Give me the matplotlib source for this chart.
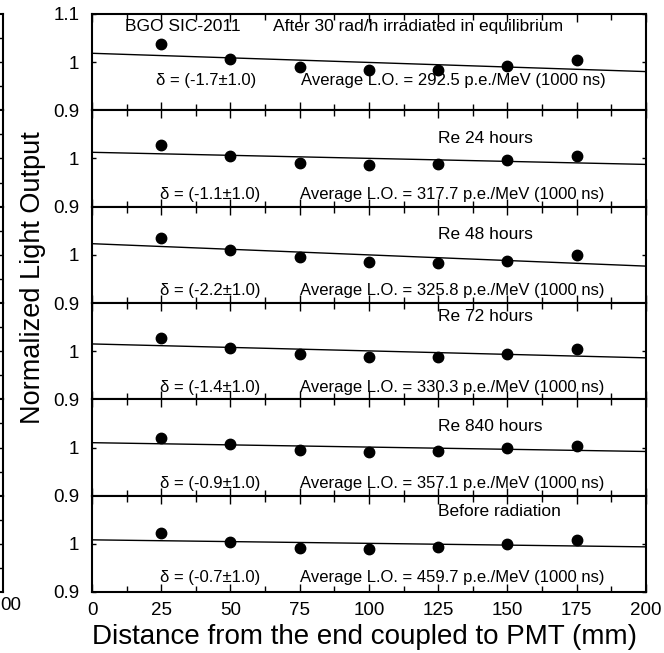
import numpy as np
import matplotlib
matplotlib.use("Agg")
import matplotlib.pyplot as plt
from matplotlib.ticker import MultipleLocator

plt.rcParams['font.family'] = ['Liberation Sans', 'DejaVu Sans']

# distance from PMT end (mm)
distance = [25, 50, 75, 100, 125, 150, 175]

# normalized light output per condition, top panel first
lo_after_30 = [1.037, 1.006, 0.990, 0.983, 0.984, 0.992, 1.004]
lo_re24 = [1.028, 1.006, 0.991, 0.986, 0.989, 0.996, 1.006]
lo_re48 = [1.035, 1.011, 0.996, 0.985, 0.984, 0.988, 1.000]
lo_re72 = [1.028, 1.007, 0.994, 0.988, 0.988, 0.994, 1.005]
lo_re840 = [1.019, 1.007, 0.994, 0.991, 0.993, 0.998, 1.004]
lo_before = [1.022, 1.004, 0.992, 0.989, 0.993, 0.999, 1.008]

conditions = ["After 30 rad/h irradiated in equilibrium", "Re 24 hours", "Re 48 hours",
              "Re 72 hours", "Re 840 hours", "Before radiation"]
deltas = ["-1.7", "-1.1", "-2.2", "-1.4", "-0.9", "-0.7"]
avg_lo = ["292.5", "317.7", "325.8", "330.3", "357.1", "459.7"]

series = [lo_after_30, lo_re24, lo_re48, lo_re72, lo_re840, lo_before]

W, H = 664, 653
fig = plt.figure(figsize=(W / 100, H / 100), dpi=100)

top, bottom = 1 - 14 / H, 1 - 592 / H

# edge of the neighbouring plot, cropped at the left side
gs_n = fig.add_gridspec(6, 1, left=-480 / W, right=3 / W, top=top, bottom=bottom, hspace=0)
for i in range(6):
    axn = fig.add_subplot(gs_n[i])
    axn.set_xlim(0, 200)
    axn.set_ylim(0.9, 1.1)
    for s in axn.spines.values():
        s.set_linewidth(1.5)
    axn.tick_params(axis='y', which='both', left=False, right=True, labelleft=False,
                    direction='in', length=3, width=1)
    axn.set_yticks([0.95, 1.0, 1.05])
    axn.set_xticks([])
fig.text(0 / W, 1 - 606 / H, "00", fontsize=13.5, ha='left', va='center')

gs = fig.add_gridspec(6, 1, left=92 / W, right=646 / W, top=top, bottom=bottom, hspace=0)
axes = [fig.add_subplot(gs[i]) for i in range(6)]

label_y = [1.074, 1.041, 1.043, 1.0715, 1.044, 1.068]
text_y = [0.961, 0.925, 0.925, 0.925, 0.925, 0.930]

xfit = np.array([0, 200])
for i, (ax, vals) in enumerate(zip(axes, series)):
    ax.plot(distance, vals, 'o', color='black', markersize=7.5, zorder=3)
    k, b = np.polyfit(distance, vals, 1)
    ax.plot(xfit, k * xfit + b, color='black', lw=1.0)

    ax.set_xlim(0, 200)
    ax.set_ylim(0.9, 1.1)
    ax.set_yticks([0.9, 1.0, 1.1] if i == 0 else [0.9, 1.0])
    ax.set_yticklabels(["0.9", "1", "1.1"] if i == 0 else ["0.9", "1"])
    ax.xaxis.set_major_locator(MultipleLocator(25))
    ax.xaxis.set_minor_locator(MultipleLocator(12.5))
    ax.tick_params(axis='x', which='major', direction='in', top=True, bottom=True,
                   length=5.5, width=1, labelsize=13.5, pad=7,
                   labelbottom=(i == 5))
    ax.tick_params(axis='x', which='minor', direction='in', top=True, bottom=True,
                   length=4.5, width=1)
    ax.tick_params(axis='y', direction='in', left=True, right=True, length=3, width=1,
                   labelsize=13.5, pad=9)
    for s in ax.spines.values():
        s.set_linewidth(1.5)

    if i == 0:
        ax.text(12, label_y[i], "BGO SIC-2011", fontsize=12.5, va='center', ha='left')
        ax.text(65.5, label_y[i], conditions[i], fontsize=12.5, va='center', ha='left')
        ax.text(23, text_y[i], f"δ = ({deltas[i]}±1.0)", fontsize=12, va='center', ha='left')
        ax.text(75.5, text_y[i], f"Average L.O. = {avg_lo[i]} p.e./MeV (1000 ns)",
                fontsize=12, va='center', ha='left')
    else:
        ax.text(125, label_y[i], conditions[i], fontsize=12.5, va='center', ha='left')
        ax.text(24.5, text_y[i], f"δ = ({deltas[i]}±1.0)", fontsize=12, va='center', ha='left')
        ax.text(75, text_y[i], f"Average L.O. = {avg_lo[i]} p.e./MeV (1000 ns)",
                fontsize=12, va='center', ha='left')

fig.text(364 / W, 1 - 637 / H, "Distance from the end coupled to PMT (mm)",
         fontsize=20, ha='center', va='center')
fig.text(33 / W, 1 - 278 / H, "Normalized Light Output", fontsize=19.5,
         rotation=90, ha='center', va='center')

fig.savefig("out.png", dpi=100)
